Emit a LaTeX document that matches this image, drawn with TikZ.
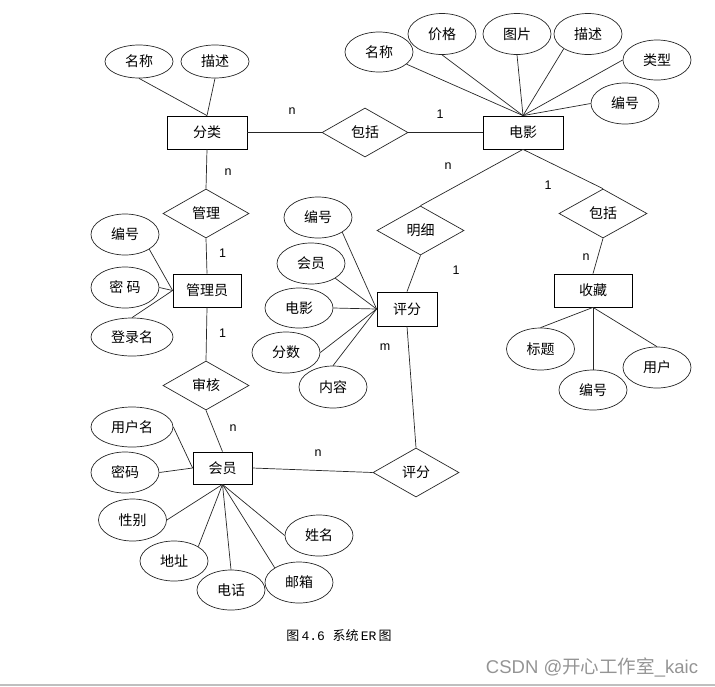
\documentclass[tikz,border=0pt]{standalone}
\usepackage{fontspec}
\setmainfont{Liberation Sans}
\newfontfamily\cjk{Noto Sans CJK SC}
\newfontfamily\capmono{Liberation Mono}
\usetikzlibrary{shapes.geometric}
\begin{document}
\begin{tikzpicture}[x=1pt,y=-1pt,
  every node/.style={inner sep=0pt},
  ln/.style={draw=black!85, line width=0.7pt},
  cjktext/.style={font=\cjk\fontsize{14}{16}\selectfont},
  attr/.style={ellipse, draw=black!85, line width=0.7pt, minimum width=68pt, minimum height=41pt, cjktext},
  ent/.style={rectangle, draw=black, line width=0.8pt, minimum width=80pt, minimum height=33pt, cjktext},
  rel/.style={diamond, draw=black!85, line width=0.7pt, minimum width=86pt, minimum height=49pt, cjktext},
  card/.style={font=\fontsize{12.5}{14}\selectfont}
]
\useasboundingbox (0,0) rectangle (715,686);

% ---- entities ----
\node[ent] (fl) at (207,132.5) {分类};
\node[ent] (dy) at (523,132.5) {电影};
\node[ent, minimum width=68pt] (gly) at (207,290.5) {管理员};
\node[ent, minimum width=60pt, minimum height=34pt] (pf) at (407,309) {评分};
\node[ent, minimum width=78pt] (sc) at (593,290.5) {收藏};
\node[ent, minimum width=59pt, minimum height=32pt] (hy) at (222.5,468) {会员};

% ---- relationships ----
\node[rel] (bk1) at (365,132.5) {包括};
\node[rel] (gl) at (206,213.5) {管理};
\node[rel] (sh) at (206,385.5) {审核};
\node[rel, minimum width=87pt] (mx) at (420.5,230.5) {明细};
\node[rel, minimum width=88pt] (bk2) at (603,213.5) {包括};
\node[rel] (pfd) at (416,472.5) {评分};

% ---- attributes of 分类 ----
\node[attr, minimum height=33pt] (flmc) at (139,61.5) {名称};
\node[attr, minimum height=33pt] (flms) at (215,61.5) {描述};

% ---- attributes of 电影 ----
\node[attr, minimum height=40pt] (dymc) at (379,52) {名称};
\node[attr] (dyjg) at (442,34) {价格};
\node[attr] (dytp) at (517,34) {图片};
\node[attr] (dyms) at (588,34) {描述};
\node[attr, minimum height=40pt] (dylx) at (657,60) {类型};
\node[attr] (dybh) at (625,103.5) {编号};

% ---- attributes of 管理员 ----
\node[attr] (glbh) at (125,234.5) {编号};
\node[attr] (glmm) at (125,287.5) {密 码};
\node[attr, minimum width=82pt, minimum height=38pt] (gldl) at (132,337) {登录名};

% ---- attributes of 评分 ----
\node[attr] (pfbh) at (318,217.5) {编号};
\node[attr] (pfhy) at (311,263.5) {会员};
\node[attr, minimum height=40pt] (pfdy) at (299,308) {电影};
\node[attr] (pffs) at (286,352.5) {分数};
\node[attr, minimum height=42pt] (pfnr) at (333,387) {内容};

% ---- attributes of 收藏 ----
\node[attr, minimum height=42pt] (scbt) at (540.5,349) {标题};
\node[attr, minimum height=40pt] (scbh) at (593,390) {编号};
\node[attr] (scyh) at (657,367.5) {用户};

% ---- attributes of 会员 ----
\node[attr, minimum width=82pt, minimum height=40pt] (hyyhm) at (132,427) {用户名};
\node[attr] (hymm) at (125,472.5) {密码};
\node[attr, minimum height=42pt] (hyxb) at (132.5,520) {性别};
\node[attr, minimum height=40pt] (hydz) at (174,561) {地址};
\node[attr, minimum height=40pt] (hydh) at (231,590) {电话};
\node[attr] (hyyx) at (299,582.5) {邮箱};
\node[attr] (hyxm) at (319,535.5) {姓名};

% ---- connectors: relationships ----
\draw[ln] (fl) -- (bk1);
\draw[ln] (bk1) -- (dy);
\draw[ln] (fl.south) -- (gl.north);
\draw[ln] (gl.south) -- (gly.north);
\draw[ln] (gly.south) -- (sh.north);
\draw[ln] (sh.south) -- (hy.north);
\draw[ln] (hy.east) -- (pfd.west);
\draw[ln] (pf.south) -- (pfd.north);
\draw[ln] (dy.south) -- (mx.north);
\draw[ln] (mx.south) -- (pf.north);
\draw[ln] (dy.south) -- (bk2.north);
\draw[ln] (bk2.south) -- (sc.north);

% ---- connectors: attributes ----
\draw[ln] (flmc.south) -- (fl.north);
\draw[ln] (flms.south) -- (fl.north);

\draw[ln] (dymc) -- (dy.north);
\draw[ln] (dyjg.south) -- (dy.north);
\draw[ln] (dytp.south) -- (dy.north);
\draw[ln] (dyms.south west) -- (dy.north);
\draw[ln] (dylx.west) -- (dy.north);
\draw[ln] (dybh.west) -- (dy.north);

\draw[ln] (glbh.south east) -- (gly.west);
\draw[ln] (glmm.east) -- (gly.west);
\draw[ln] (gldl.north) -- (gly.west);

\draw[ln] (pfbh.south east) -- (pf.west);
\draw[ln] (pfhy.south east) -- (pf.west);
\draw[ln] (pfdy.east) -- (pf.west);
\draw[ln] (pffs.east) -- (pf.west);
\draw[ln] (pfnr.north) -- (pf.west);

\draw[ln] (scbt.north) -- (sc.south);
\draw[ln] (scbh.north) -- (sc.south);
\draw[ln] (scyh.north) -- (sc.south);

\draw[ln] (hyyhm.east) -- (hy.west);
\draw[ln] (hymm.east) -- (hy.west);
\draw[ln] (hyxb.east) -- (hy.south);
\draw[ln] (hydz.north east) -- (hy.south);
\draw[ln] (hydh.north) -- (hy.south);
\draw[ln] (hyyx.north west) -- (hy.south);
\draw[ln] (hyxm.west) -- (hy.south);

% ---- cardinalities ----
\node[card] (c1) at (292,111) {n};
\node[card] (c2) at (440,114) {1};
\node[card] (c3) at (228,172) {n};
\node[card] (c4) at (222.5,253) {1};
\node[card] (c5) at (222.5,333) {1};
\node[card] (c6) at (233,428) {n};
\node[card] (c7) at (318,453) {n};
\node[card] (c8) at (448,166) {n};
\node[card] (c9) at (456,270) {1};
\node[card] (c10) at (385,347) {m};
\node[card] (c11) at (548,185) {1};
\node[card] (c12) at (586,257) {n};

% ---- caption and watermark ----
\node[font=\cjk\fontsize{13}{15}\selectfont] (cap) at (339,636) {图\,{\capmono 4.6 }系统\,{\capmono ER}\,图};
\node[text=black!42, font=\fontsize{18.5}{20}\selectfont] (wm) at (592,667) {CSDN @{\cjk 开心工作室}\_kaic};
\draw[black!25, line width=1.5pt] (0,685.2) -- (715,685.2);
\end{tikzpicture}
\end{document}
